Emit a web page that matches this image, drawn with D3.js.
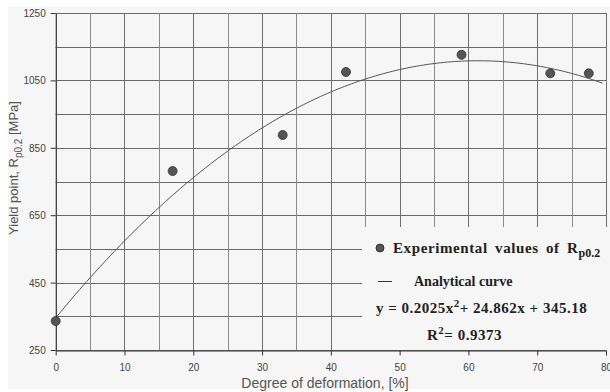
<!DOCTYPE html>
<html><head><meta charset="utf-8">
<script src="https://cdn.jsdelivr.net/npm/d3@7"></script>
<style>html,body{margin:0;padding:0;background:#fff;}svg{display:block;}</style>
</head><body>
<svg id="c" width="610" height="392"></svg>
<script>
// Experimental data
const deformation = [0, 17, 33, 42.2, 59, 71.9, 77.5];
const yieldPoint  = [336, 781, 888, 1075, 1126, 1071, 1071];
// Analytical curve: y = a x^2 + b x + c  (concave fit shown in legend)
const curveCoef = [-0.2025, 24.862, 345.18];
const curveRange = [0, 79.5];
// Axis ticks
const xTickLabels = [0, 10, 20, 30, 40, 50, 60, 70, 80];
const yTickLabels = [250, 450, 650, 850, 1050, 1250];
const xGrid = d3.range(0, 81, 5);
const yGrid = d3.range(250, 1251, 100);

const svg = d3.select("#c");
const L = 55.7, R = 606, T = 13, B = 350;
const x = d3.scaleLinear().domain([0, 80]).range([L, R]);
const y = d3.scaleLinear().domain([250, 1250]).range([B, T]);

svg.append("rect").attr("x", 8).attr("y", 7).attr("width", 602).attr("height", 382).attr("fill", "#f6f6f6");

const legendBox = {x0: 362, y0: 227};

// grid
const g = svg.append("g");
g.selectAll("line.h").data(yGrid).join("line")
  .attr("x1", L).attr("x2", d => y(d) > legendBox.y0 && y(d) < B - 1 ? legendBox.x0 : R)
  .attr("y1", d => Math.round(y(d)) + 0.5).attr("y2", d => Math.round(y(d)) + 0.5)
  .attr("stroke", "#6a6a6a").attr("stroke-width", 1);
g.selectAll("line.v").data(xGrid).join("line")
  .attr("x1", d => Math.round(x(d)) + 0.5).attr("x2", d => Math.round(x(d)) + 0.5)
  .attr("y1", T).attr("y2", d => x(d) > legendBox.x0 ? legendBox.y0 : B)
  .attr("stroke", (d, i) => i % 2 ? "#8a8a8a" : "#6f6f6f").attr("stroke-width", 1);

// axes
const xAxis = d3.axisBottom(x).tickValues(xTickLabels).tickFormat(d3.format("d")).tickSize(5).tickSizeOuter(0);
const yAxis = d3.axisLeft(y).tickValues(yTickLabels).tickFormat(d3.format("d")).tickSize(5).tickSizeOuter(0);
const gx = svg.append("g").attr("transform", `translate(0,${B + 0.5})`).call(xAxis);
const gy = svg.append("g").attr("transform", `translate(${L},0)`).call(yAxis);
[gx, gy].forEach(a => {
  a.select(".domain").attr("stroke", "#333");
  a.selectAll(".tick line").attr("stroke", "#333");
  a.selectAll("text").attr("fill", "#444").attr("font-family", "Liberation Sans, Arial, sans-serif").attr("font-size", 10);
});
gx.selectAll("text").attr("dy", "1.25em");
gy.selectAll("text").attr("dx", "-2").attr("dy", "0.35em");

// curve
const curveXs = d3.range(curveRange[0], curveRange[1] + 0.001, 0.5);
const line = d3.line().x(d => x(d)).y(d => y(curveCoef[0] * d * d + curveCoef[1] * d + curveCoef[2]));
svg.append("path").datum(curveXs).attr("d", line).attr("fill", "none").attr("stroke", "#555").attr("stroke-width", 1);

// points
svg.selectAll("circle.pt").data(deformation).join("circle")
  .attr("cx", d => x(d)).attr("cy", (d, i) => y(yieldPoint[i])).attr("r", 4.5)
  .attr("fill", "#555").attr("stroke", "#333").attr("stroke-width", 0.8);

// legend
const lg = svg.append("g").attr("font-family", "Liberation Serif, Times New Roman, serif").attr("font-weight", "bold").attr("fill", "#222").attr("font-size", 15);
lg.append("circle").attr("cx", 380).attr("cy", 248).attr("r", 4).attr("fill", "#555").attr("stroke", "#333");
const t1 = lg.append("text").attr("x", 393).attr("y", 253).attr("letter-spacing", 0.6).attr("word-spacing", 3);
t1.append("tspan").text("Experimental values of R");
t1.append("tspan").attr("dy", 4).attr("font-size", 12).attr("letter-spacing", 0).text("p0.2");
lg.append("line").attr("x1", 378).attr("x2", 392).attr("y1", 281.5).attr("y2", 281.5).attr("stroke", "#333");
lg.append("text").attr("x", 414).attr("y", 286).attr("font-size", 14).text("Analytical curve");
const t3 = lg.append("text").attr("x", 376).attr("y", 313).attr("letter-spacing", 0.5);
t3.append("tspan").text("y = 0.2025x");
t3.append("tspan").attr("dy", -6).attr("font-size", 11).text("2");
t3.append("tspan").attr("dy", 6).text("+ 24.862x + 345.18");
const t4 = lg.append("text").attr("x", 427).attr("y", 340).attr("letter-spacing", 0.5);
t4.append("tspan").text("R");
t4.append("tspan").attr("dy", -6).attr("font-size", 11).text("2");
t4.append("tspan").attr("dy", 6).text("= 0.9373");

// axis titles
svg.append("text").attr("x", 325).attr("y", 388).attr("text-anchor", "middle")
  .attr("font-family", "Liberation Sans, Arial, sans-serif").attr("font-size", 14).attr("fill", "#555")
  .text("Degree of deformation, [%]");
const yt = svg.append("text").attr("transform", "translate(18,168) rotate(-90)").attr("text-anchor", "middle")
  .attr("font-family", "Liberation Sans, Arial, sans-serif").attr("font-size", 13).attr("fill", "#555");
yt.append("tspan").text("Yield point, R");
yt.append("tspan").attr("dy", 4).attr("font-size", 10).text("p0.2");
yt.append("tspan").attr("dy", -4).text(" [MPa]");
</script>
</body></html>
